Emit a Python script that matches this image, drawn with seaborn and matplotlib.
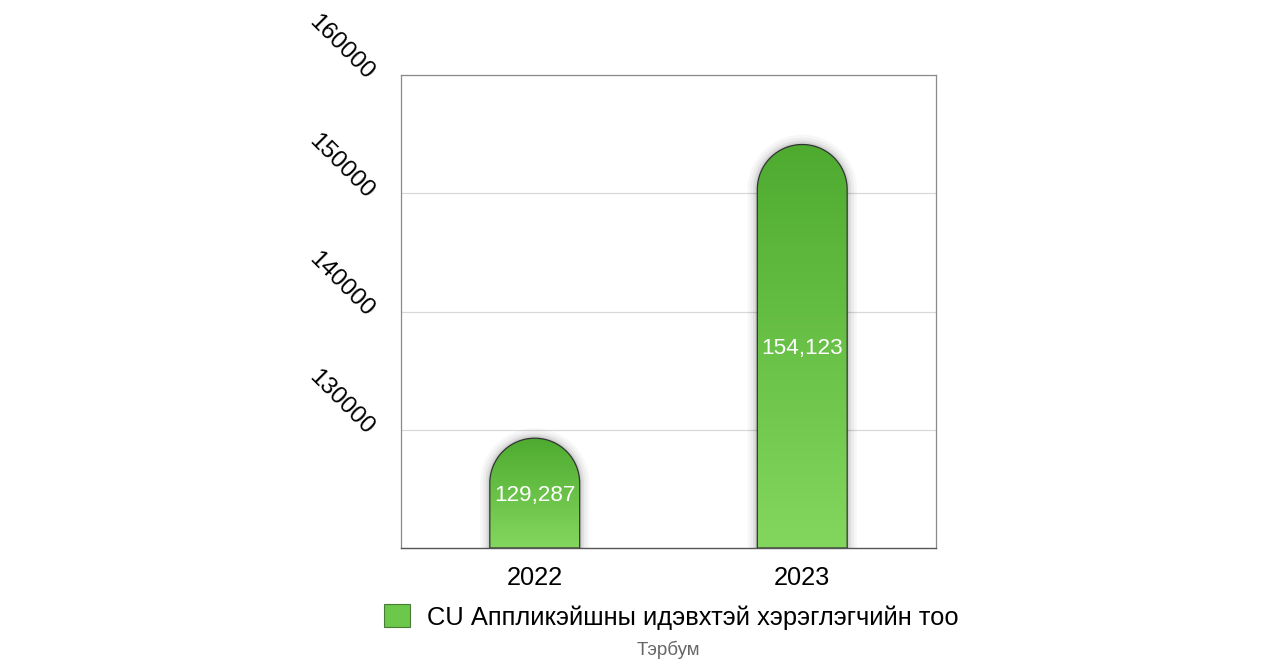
import numpy as np
import pandas as pd
import matplotlib
matplotlib.use('Agg')
import matplotlib.pyplot as plt
from matplotlib.path import Path
from matplotlib.patches import PathPatch, Patch
import seaborn as sns

# Data
years = ['2022', '2023']
users = [129287, 154123]
series_name = 'CU Аппликэйшны идэвхтэй хэрэглэгчийн тоо'
unit_label = 'Тэрбум'
y_ticks = [130000, 140000, 150000, 160000]
y_min, y_max = 120000, 160000

sns.set_style('white')
plt.rcParams['font.family'] = ['Liberation Sans', 'DejaVu Sans']
plt.rcParams['text.color'] = 'black'
plt.rcParams['xtick.color'] = 'black'
plt.rcParams['ytick.color'] = 'black'

df = pd.DataFrame({'year': years, 'users': users})

fig = plt.figure(figsize=(12.78, 6.64), dpi=100)
ax = fig.add_axes([401 / 1278, 1 - 548 / 664, 535 / 1278, 473 / 664])

sns.barplot(data=df, x='year', y='users', ax=ax, width=0.336, color='#66c043')
ax.set_ylim(y_min, y_max)
ax.set_xlim(-0.5, 1.5)

# Thay cột chữ nhật bằng cột bo tròn đầu + gradient
top_col = np.array([0x4e, 0xab, 0x30]) / 255
bot_col = np.array([0x84, 0xd7, 0x5e]) / 255
grad = np.linspace(0, 1, 256)[:, None, None]
grad_img = top_col * (1 - grad) + bot_col * grad

fig.canvas.draw()
px_per_y = ax.bbox.height / (y_max - y_min)
px_per_x = ax.bbox.width / 2.0

bars = list(ax.patches)
for p in bars:
    x0 = p.get_x()
    w = p.get_width()
    top = p.get_y() + p.get_height()
    rx = w / 2
    ry = rx * px_per_x / px_per_y
    cx = x0 + rx
    t = np.linspace(np.pi, 0, 60)
    arc = np.column_stack([cx + rx * np.cos(t), top - ry + ry * np.sin(t)])
    verts = np.vstack([[x0, y_min], [x0, top - ry], arc, [x0 + w, y_min], [x0, y_min]])
    codes = [Path.MOVETO] + [Path.LINETO] * (len(verts) - 2) + [Path.CLOSEPOLY]
    path = Path(verts, codes)

    # bóng mờ
    for lw, a in [(14, 0.03), (10, 0.04), (6, 0.06), (3, 0.08)]:
        ax.add_patch(PathPatch(path, facecolor='none', edgecolor='black',
                               lw=lw, alpha=a, zorder=2))
    fill = PathPatch(path, facecolor='none', edgecolor='none', zorder=3)
    ax.add_patch(fill)
    im = ax.imshow(grad_img, extent=(x0, x0 + w, y_min, top), aspect='auto',
                   zorder=3, origin='upper')
    im.set_clip_path(fill)
    ax.add_patch(PathPatch(path, facecolor='none', edgecolor='#333333',
                           lw=0.9, zorder=4))
    p.set_visible(False)

    ax.text(cx, (y_min + top) / 2, f'{int(round(top)):,}', color='white',
            fontsize=16.2, ha='center', va='center_baseline', zorder=5)

ax.set_ylim(y_min, y_max)
ax.set_xlim(-0.5, 1.5)

# Lưới và khung
ax.set_yticks(y_ticks)
ax.yaxis.grid(True, color='#d8d8d8', lw=0.9)
ax.set_axisbelow(True)
for s in ['left', 'top', 'right']:
    ax.spines[s].set_color('#8a8a8a')
    ax.spines[s].set_linewidth(0.9)
ax.spines['bottom'].set_color('#555555')
ax.spines['bottom'].set_linewidth(1.0)

ax.set_xlabel('')
ax.set_ylabel('')
ax.tick_params(axis='x', length=0, labelsize=18.3, pad=13)
ax.tick_params(axis='y', length=0, labelsize=17.5, pad=21)
for lab in ax.get_yticklabels():
    lab.set_rotation(-45)
    lab.set_rotation_mode('anchor')
    lab.set_ha('right')
    lab.set_va('center_baseline')

handle = Patch(facecolor='#6cc84a', edgecolor='#4a7a38', lw=0.8)
fig.legend([handle], [series_name], loc='center', bbox_to_anchor=(0.5255, 1 - 617 / 664),
           frameon=False, fontsize=18.4, handlelength=1.0, handleheight=1.0,
           handletextpad=0.7)
fig.text(0.5227, 1 - 650 / 664, unit_label, ha='center', va='center',
         fontsize=13.5, color='#666666')

fig.savefig('out.png', dpi=100)
